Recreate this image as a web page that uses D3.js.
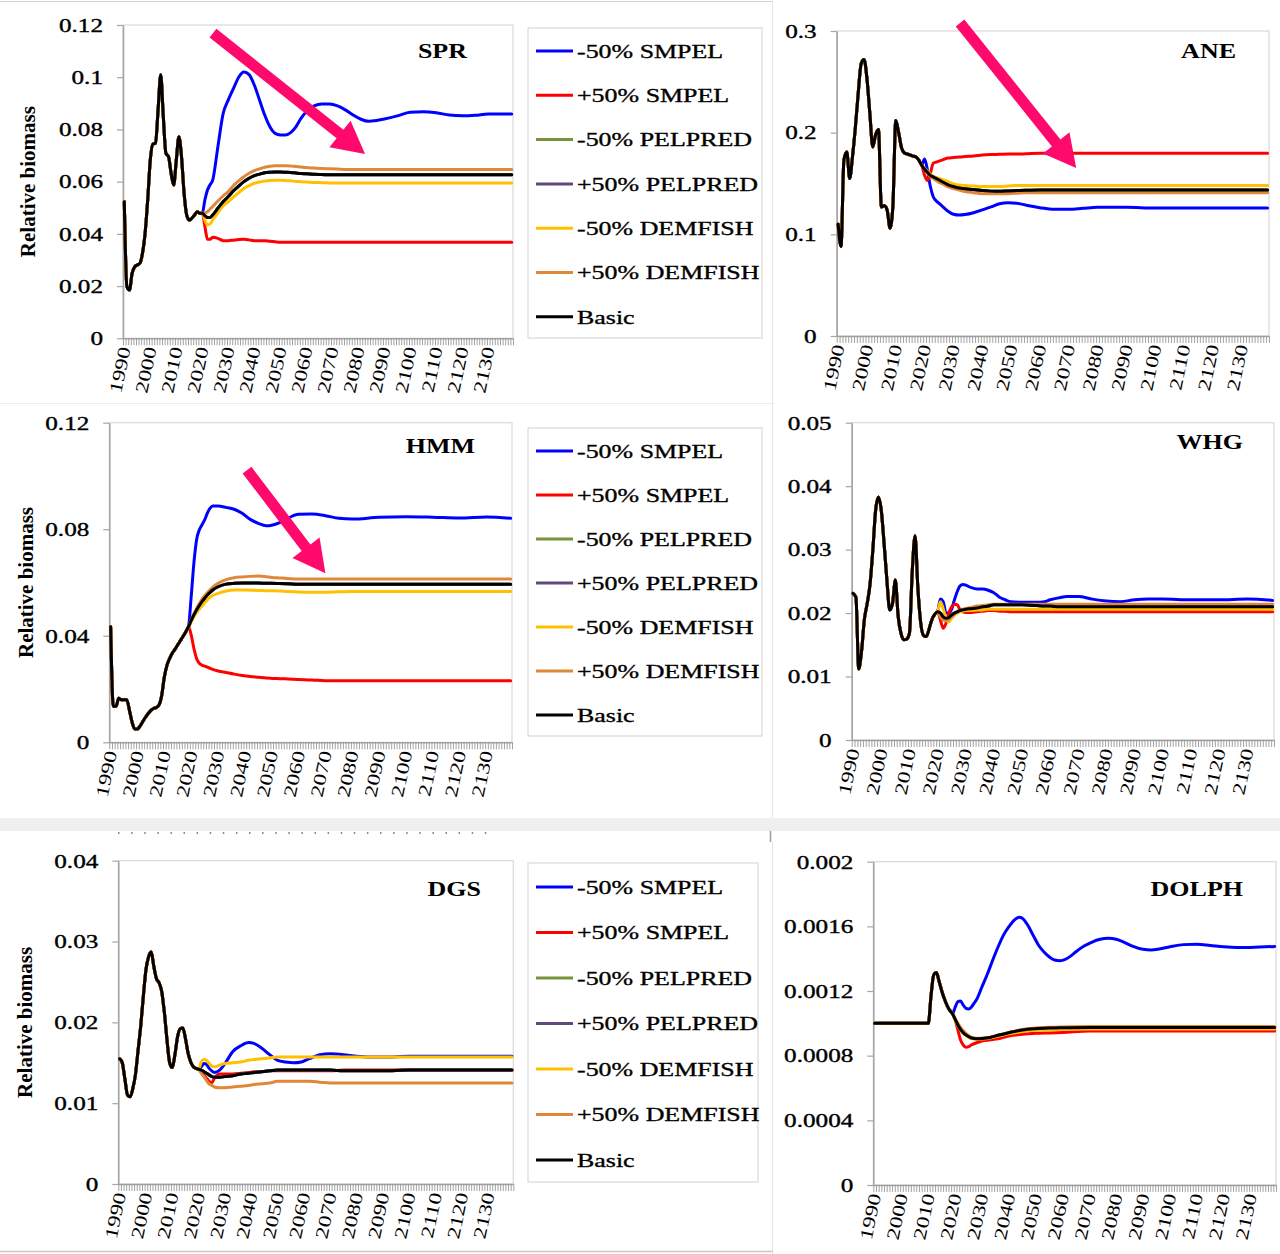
<!DOCTYPE html>
<html><head><meta charset="utf-8">
<script src="https://cdn.jsdelivr.net/npm/d3@7"></script>
<style>
html,body{margin:0;padding:0;background:#fff;}
svg{display:block;}
text{font-family:"Liberation Serif","Times New Roman",serif;fill:#000;}
text.heavy{stroke:#000;stroke-width:0.35px;}
</style></head><body>
<svg id="chart" width="1280" height="1254"></svg>
<script>
// ---------------- DATA ----------------
const SERIES_NAMES = ["-50% SMPEL","+50% SMPEL","-50% PELPRED","+50% PELPRED","-50% DEMFISH","+50% DEMFISH","Basic"];
const FIRST_YEAR = 1990, LAST_YEAR = 2139;
const X_TICK_LABELS = ["1990","2000","2010","2020","2030","2040","2050","2060","2070","2080","2090","2100","2110","2120","2130"];
const Y_TITLE = "Relative biomass";

// SPR
const SPR_Y_TICKS = [0,0.02,0.04,0.06,0.08,0.1,0.12];
const SPR_Y_LABELS = ["0","0.02","0.04","0.06","0.08","0.1","0.12"];
const SPR_HIST_YEARS = [1990,1991,1992,1993,1994,1995,1996,1997,1998,1999,2000,2001,2002,2003,2004,2005,2006,2007,2008,2009,2010,2011,2012,2013,2014,2015,2016,2017,2018,2019,2020];
const SPR_HIST = [0.0523,0.0198,0.0185,0.0249,0.0274,0.0281,0.0287,0.0326,0.0402,0.0530,0.0683,0.0744,0.0747,0.0875,0.1009,0.0849,0.0709,0.0696,0.0632,0.0587,0.0683,0.0772,0.0696,0.0555,0.0472,0.0453,0.0460,0.0472,0.0485,0.0479,0.0479];
const SPR_PROJ_YEARS = [2020,2021,2022,2023,2024,2026,2028,2030,2032,2034,2036,2038,2040,2042,2044,2046,2048,2050,2052,2054,2056,2058,2060,2063,2066,2069,2072,2075,2078,2081,2084,2087,2090,2095,2100,2105,2110,2115,2120,2125,2130,2139];
const SPR_SMPEL_M = [0.0479,0.0530,0.0568,0.0588,0.0606,0.0734,0.0860,0.0913,0.0957,0.1000,0.1020,0.1010,0.0970,0.0913,0.0855,0.0810,0.0785,0.0779,0.0779,0.0788,0.0810,0.0843,0.0868,0.0890,0.0897,0.0897,0.0890,0.0875,0.0855,0.0839,0.0831,0.0834,0.0840,0.0852,0.0866,0.0868,0.0864,0.0855,0.0852,0.0854,0.0859,0.0859];
const SPR_SMPEL_P = [0.0479,0.0428,0.0379,0.0379,0.0387,0.0383,0.0374,0.0374,0.0376,0.0378,0.0379,0.0377,0.0374,0.0374,0.0374,0.0372,0.0370,0.0368,0.0368,0.0368,0.0368,0.0368,0.0368,0.0368,0.0368,0.0368,0.0368,0.0368,0.0368,0.0368,0.0368,0.0368,0.0368,0.0368,0.0368,0.0368,0.0368,0.0368,0.0368,0.0368,0.0368,0.0368];
const SPR_DEMFISH_M = [0.0479,0.0453,0.0434,0.0438,0.0453,0.0481,0.0507,0.0523,0.0541,0.0558,0.0574,0.0585,0.0594,0.0599,0.0602,0.0604,0.0605,0.0605,0.0604,0.0603,0.0601,0.0600,0.0599,0.0597,0.0596,0.0595,0.0595,0.0595,0.0595,0.0595,0.0595,0.0595,0.0595,0.0595,0.0595,0.0595,0.0595,0.0595,0.0595,0.0595,0.0595,0.0595];
const SPR_DEMFISH_P = [0.0479,0.0480,0.0485,0.0495,0.0505,0.0526,0.0545,0.0562,0.0585,0.0603,0.0619,0.0632,0.0642,0.0649,0.0655,0.0659,0.0661,0.0661,0.0661,0.0660,0.0658,0.0656,0.0654,0.0652,0.0650,0.0649,0.0648,0.0647,0.0647,0.0647,0.0647,0.0647,0.0647,0.0647,0.0647,0.0647,0.0647,0.0647,0.0647,0.0647,0.0647,0.0647];
const SPR_BASIC = [0.0479,0.0469,0.0463,0.0463,0.0472,0.0498,0.0523,0.0543,0.0565,0.0583,0.0600,0.0613,0.0623,0.0629,0.0634,0.0636,0.0637,0.0637,0.0636,0.0635,0.0633,0.0631,0.0630,0.0628,0.0627,0.0626,0.0626,0.0626,0.0626,0.0626,0.0626,0.0626,0.0626,0.0626,0.0626,0.0626,0.0626,0.0626,0.0626,0.0626,0.0626,0.0626];
const SPR_ARROW = [[2024.1,0.1169],[2082.6,0.0706]];

// ANE
const ANE_Y_TICKS = [0,0.1,0.2,0.3];
const ANE_Y_LABELS = ["0","0.1","0.2","0.3"];
const ANE_HIST_YEARS = [1990,1991,1992,1993,1994,1995,1996,1997,1998,1999,2000,2001,2002,2003,2004,2005,2006,2007,2008,2009,2010,2011,2012,2013,2014,2015,2016,2017,2018,2019];
const ANE_HIST = [0.110,0.088,0.173,0.181,0.155,0.177,0.206,0.240,0.268,0.272,0.253,0.219,0.186,0.198,0.203,0.127,0.128,0.124,0.106,0.128,0.212,0.200,0.185,0.180,0.179,0.178,0.177,0.176,0.173,0.168];
const ANE_PROJ_YEARS = [2019,2020,2021,2022,2023,2024,2025,2026,2028,2030,2032,2034,2037,2040,2043,2046,2049,2052,2055,2060,2065,2070,2075,2080,2090,2100,2110,2120,2130,2139];
const ANE_SMPEL_M = [0.168,0.174,0.163,0.147,0.137,0.133,0.1305,0.128,0.123,0.1198,0.119,0.1195,0.1213,0.124,0.127,0.130,0.131,0.1305,0.1289,0.1262,0.1246,0.1246,0.1256,0.1266,0.1266,0.1259,0.1259,0.1259,0.1259,0.1259];
const ANE_SMPEL_P = [0.168,0.158,0.153,0.160,0.170,0.171,0.172,0.173,0.175,0.1755,0.176,0.1765,0.177,0.178,0.1785,0.1787,0.179,0.179,0.1792,0.1797,0.1797,0.1797,0.1797,0.1797,0.1797,0.1797,0.1797,0.1797,0.1797,0.1797];
const ANE_DEMFISH_M = [0.168,0.165,0.162,0.159,0.157,0.156,0.155,0.154,0.152,0.1495,0.1485,0.148,0.1475,0.147,0.147,0.147,0.1475,0.148,0.148,0.148,0.148,0.148,0.148,0.148,0.148,0.148,0.148,0.148,0.148,0.148];
const ANE_DEMFISH_P = [0.168,0.164,0.160,0.157,0.155,0.153,0.151,0.150,0.147,0.145,0.1435,0.142,0.141,0.140,0.1398,0.1398,0.140,0.1405,0.141,0.141,0.141,0.141,0.141,0.141,0.141,0.141,0.141,0.141,0.141,0.141];
const ANE_BASIC = [0.168,0.164,0.161,0.158,0.1565,0.155,0.1535,0.152,0.149,0.147,0.1455,0.1448,0.144,0.143,0.1425,0.1423,0.1427,0.143,0.1433,0.1436,0.1436,0.1436,0.1436,0.1436,0.1436,0.1436,0.1436,0.1436,0.1436,0.1436];
const ANE_ARROW = [[2032.3,0.3079],[2072.6,0.1653]];

// HMM
const HMM_Y_TICKS = [0,0.04,0.08,0.12];
const HMM_Y_LABELS = ["0","0.04","0.08","0.12"];
const HMM_HIST_YEARS = [1990,1991,1992,1993,1994,1995,1996,1997,1998,1999,2000,2001,2002,2003,2004,2005,2006,2007,2008,2009,2010,2011,2012,2013,2014,2015,2016,2017,2018,2019];
const HMM_HIST = [0.0434,0.0135,0.0135,0.0165,0.0160,0.0160,0.0160,0.0120,0.0075,0.0050,0.0050,0.0062,0.0078,0.0094,0.0108,0.0120,0.0127,0.0131,0.0140,0.0175,0.0245,0.0290,0.0315,0.0335,0.0350,0.0366,0.0382,0.0398,0.0415,0.0434];
const HMM_PROJ_YEARS = [2019,2020,2021,2022,2023,2024,2025,2026,2027,2028,2030,2033,2036,2039,2042,2045,2048,2050,2053,2056,2060,2065,2070,2075,2080,2090,2100,2110,2120,2130,2139];
const HMM_SMPEL_M = [0.0434,0.0547,0.0672,0.0760,0.0797,0.0816,0.0835,0.0860,0.0878,0.0887,0.0887,0.0882,0.0875,0.0860,0.0837,0.0822,0.0813,0.0815,0.0825,0.0841,0.0856,0.0857,0.0851,0.0841,0.0838,0.0845,0.0847,0.0845,0.0842,0.0846,0.0841];
const HMM_SMPEL_P = [0.0434,0.0403,0.0353,0.0315,0.0297,0.0290,0.0286,0.0282,0.0278,0.0274,0.0268,0.0262,0.0256,0.0251,0.0247,0.0244,0.0241,0.0240,0.0239,0.0238,0.0236,0.0234,0.0231,0.0231,0.0231,0.0231,0.0231,0.0231,0.0231,0.0231,0.0231];
const HMM_DEMFISH_M = [0.0434,0.0452,0.0472,0.0487,0.0499,0.0512,0.0524,0.0535,0.0544,0.0551,0.0559,0.0568,0.0572,0.0572,0.0571,0.0570,0.0569,0.0569,0.0568,0.0566,0.0564,0.0563,0.0563,0.0565,0.0566,0.0566,0.0566,0.0566,0.0566,0.0566,0.0566];
const HMM_DEMFISH_P = [0.0434,0.0460,0.0482,0.0502,0.0520,0.0537,0.0550,0.0562,0.0573,0.0582,0.0597,0.0611,0.0618,0.0621,0.0623,0.0624,0.0622,0.0619,0.0617,0.0615,0.0613,0.0613,0.0613,0.0613,0.0613,0.0613,0.0613,0.0613,0.0613,0.0613,0.0613];
const HMM_BASIC = [0.0434,0.0457,0.0478,0.0497,0.0513,0.0528,0.0541,0.0553,0.0563,0.0572,0.0584,0.0594,0.0597,0.0598,0.0598,0.0598,0.0597,0.0597,0.0596,0.0595,0.0593,0.0593,0.0593,0.0593,0.0593,0.0593,0.0593,0.0593,0.0593,0.0593,0.0593];
const HMM_ARROW = [[2040.8,0.1022],[2070.0,0.0635]];

// WHG
const WHG_Y_TICKS = [0,0.01,0.02,0.03,0.04,0.05];
const WHG_Y_LABELS = ["0","0.01","0.02","0.03","0.04","0.05"];
const WHG_HIST_YEARS = [1990,1991,1992,1993,1994,1995,1996,1997,1998,1999,2000,2001,2002,2003,2004,2005,2006,2007,2008,2009,2010,2011,2012,2013,2014,2015,2016,2017,2018,2019,2020];
const WHG_HIST = [0.0231,0.0225,0.0112,0.0140,0.0190,0.0215,0.0245,0.0299,0.0362,0.0383,0.0362,0.0310,0.0252,0.0205,0.0215,0.0252,0.0195,0.0168,0.0158,0.0159,0.0168,0.0265,0.0322,0.0240,0.0185,0.0165,0.0163,0.0175,0.0190,0.0198,0.0202];
const WHG_PROJ_YEARS = [2020,2021,2022,2023,2024,2025,2026,2027,2028,2029,2030,2032,2034,2036,2038,2040,2042,2044,2046,2050,2055,2058,2060,2063,2066,2070,2075,2080,2085,2090,2095,2100,2110,2120,2130,2139];
const WHG_SMPEL_M = [0.0202,0.0222,0.0218,0.0200,0.0200,0.0206,0.0221,0.0234,0.0243,0.0245,0.0244,0.0240,0.0238,0.0238,0.0236,0.0232,0.0225,0.0221,0.0218,0.0217,0.0217,0.0218,0.0221,0.0224,0.0226,0.0226,0.0222,0.0219,0.0218,0.0221,0.0222,0.0222,0.0221,0.0221,0.0222,0.0220];
const WHG_SMPEL_P = [0.0202,0.0189,0.0176,0.0184,0.0200,0.0210,0.0214,0.0213,0.0205,0.0202,0.0201,0.0201,0.0202,0.0203,0.0204,0.0204,0.0203,0.0203,0.0202,0.0202,0.0202,0.0202,0.0202,0.0202,0.0202,0.0202,0.0202,0.0202,0.0202,0.0202,0.0202,0.0202,0.0202,0.0202,0.0202,0.0202];
const WHG_DEMFISH_M = [0.0202,0.0218,0.0207,0.0192,0.0186,0.0192,0.0197,0.0200,0.0202,0.0203,0.0204,0.0204,0.0205,0.0205,0.0206,0.0206,0.0206,0.0206,0.0206,0.0206,0.0206,0.0206,0.0206,0.0206,0.0206,0.0206,0.0206,0.0206,0.0206,0.0206,0.0206,0.0206,0.0206,0.0206,0.0206,0.0206];
const WHG_DEMFISH_P = [0.0202,0.0194,0.0189,0.0188,0.0190,0.0194,0.0198,0.0202,0.0204,0.0206,0.0207,0.0209,0.0211,0.0212,0.0213,0.0214,0.0214,0.0214,0.0214,0.0214,0.0214,0.0214,0.0214,0.0214,0.0214,0.0214,0.0214,0.0214,0.0214,0.0214,0.0214,0.0214,0.0214,0.0214,0.0214,0.0214];
const WHG_BASIC = [0.0202,0.0200,0.0194,0.0192,0.0193,0.0197,0.0200,0.0202,0.0204,0.0205,0.0206,0.0207,0.0208,0.0210,0.0211,0.0213,0.0213,0.0213,0.0213,0.0213,0.0212,0.0211,0.0211,0.0210,0.0210,0.0210,0.0210,0.0210,0.0210,0.0210,0.0210,0.0210,0.0210,0.0210,0.0210,0.0210];

// DGS
const DGS_Y_TICKS = [0,0.01,0.02,0.03,0.04];
const DGS_Y_LABELS = ["0","0.01","0.02","0.03","0.04"];
const DGS_HIST_YEARS = [1990,1991,1992,1993,1994,1995,1996,1997,1998,1999,2000,2001,2002,2003,2004,2005,2006,2007,2008,2009,2010,2011,2012,2013,2014,2015,2016,2017,2018,2019,2020];
const DGS_HIST = [0.0155,0.0150,0.0130,0.0110,0.0108,0.0118,0.0135,0.0165,0.0195,0.0232,0.0265,0.0281,0.0287,0.0269,0.0254,0.0249,0.0238,0.0212,0.0178,0.0150,0.0144,0.0160,0.0182,0.0192,0.0193,0.0180,0.0162,0.0151,0.0145,0.0143,0.0142];
const DGS_PROJ_YEARS = [2020,2021,2022,2023,2024,2025,2026,2028,2030,2033,2036,2039,2041,2044,2047,2050,2053,2056,2059,2062,2066,2070,2075,2080,2085,2090,2100,2110,2120,2130,2139];
const DGS_SMPEL_M = [0.0142,0.0145,0.0149,0.0148,0.0143,0.0140,0.0138,0.0141,0.0149,0.0164,0.0171,0.0175,0.0174,0.0168,0.0160,0.0153,0.0151,0.0150,0.0151,0.0155,0.0160,0.0161,0.0160,0.0158,0.0157,0.0157,0.0158,0.0158,0.0158,0.0158,0.0158];
const DGS_SMPEL_P = [0.0142,0.0139,0.0135,0.0131,0.0127,0.0125,0.0131,0.0136,0.0136,0.0136,0.0137,0.0138,0.0139,0.0139,0.0140,0.0140,0.0140,0.0140,0.0140,0.0140,0.0140,0.0140,0.0141,0.0141,0.0141,0.0141,0.0141,0.0141,0.0141,0.0141,0.0141];
const DGS_DEMFISH_M = [0.0142,0.0151,0.0154,0.0153,0.0149,0.0146,0.0145,0.0147,0.0149,0.0150,0.0151,0.0153,0.0154,0.0155,0.0156,0.0157,0.0157,0.0157,0.0157,0.0157,0.0157,0.0157,0.0157,0.0157,0.0157,0.0157,0.0157,0.0157,0.0157,0.0157,0.0157];
const DGS_DEMFISH_P = [0.0142,0.0137,0.0133,0.0128,0.0124,0.0122,0.0120,0.0119,0.0119,0.0120,0.0121,0.0122,0.0123,0.0124,0.0125,0.0127,0.0127,0.0127,0.0127,0.0127,0.0126,0.0125,0.0125,0.0125,0.0125,0.0125,0.0125,0.0125,0.0125,0.0125,0.0125];
const DGS_BASIC = [0.0142,0.0141,0.0139,0.0137,0.0135,0.0133,0.0132,0.0132,0.0133,0.0134,0.0136,0.0137,0.0138,0.0139,0.0140,0.0141,0.0141,0.0141,0.0141,0.0141,0.0141,0.0141,0.0140,0.0140,0.0140,0.0140,0.0141,0.0141,0.0141,0.0141,0.0141];

// DOLPH
const DOLPH_Y_TICKS = [0,0.0004,0.0008,0.0012,0.0016,0.002];
const DOLPH_Y_LABELS = ["0","0.0004","0.0008","0.0012","0.0016","0.002"];
const DOLPH_HIST_YEARS = [1990,1991,1992,1993,1994,1995,1996,1997,1998,1999,2000,2001,2002,2003,2004,2005,2006,2007,2008,2009,2010,2011,2012,2013,2014,2015,2016,2017,2018,2019];
const DOLPH_HIST = [0.001,0.001,0.001,0.001,0.001,0.001,0.001,0.001,0.001,0.001,0.001,0.001,0.001,0.001,0.001,0.001,0.001,0.001,0.001,0.001,0.001,0.00117,0.00130,0.001315,0.00126,0.00120,0.00115,0.00111,0.00108,0.00106];
const DOLPH_BLUE_YEARS = [2019,2020,2021,2022,2023,2024,2025,2026,2027,2028,2030,2032,2034,2036,2038,2040,2042,2044,2045,2047,2049,2051,2053,2055,2057,2059,2061,2063,2065,2068,2071,2074,2077,2080,2083,2086,2090,2093,2096,2100,2105,2110,2115,2120,2125,2130,2139];
const DOLPH_SMPEL_M = [0.00106,0.0011,0.001134,0.001138,0.001113,0.001093,0.001089,0.0011,0.001124,0.001148,0.001227,0.001305,0.001392,0.001474,0.001546,0.001598,0.001639,0.001656,0.00165,0.001608,0.001546,0.001485,0.001443,0.001412,0.001392,0.001388,0.001396,0.001416,0.001443,0.001478,0.001503,0.00152,0.001526,0.00152,0.001501,0.001478,0.001458,0.001454,0.00146,0.001474,0.001487,0.001489,0.001482,0.001474,0.00147,0.00147,0.001476];
const DOLPH_PROJ_YEARS = [2019,2020,2021,2022,2023,2024,2025,2026,2028,2030,2033,2036,2040,2045,2050,2055,2060,2070,2139];
const DOLPH_SMPEL_P = [0.00106,0.00102,0.000959,0.000897,0.000866,0.000852,0.000856,0.000866,0.00088,0.000891,0.000898,0.000905,0.000922,0.000932,0.000938,0.000941,0.000944,0.000953,0.000953];
const DOLPH_DEMFISH_M = [0.00106,0.00102,0.000985,0.00096,0.00094,0.000925,0.000914,0.000906,0.000902,0.000903,0.000909,0.00092,0.000935,0.00095,0.000957,0.00096,0.000962,0.000965,0.000965];
const DOLPH_DEMFISH_P = [0.00106,0.00103,0.001,0.000975,0.000955,0.000938,0.000925,0.000915,0.000908,0.000908,0.000913,0.000925,0.000943,0.000962,0.000972,0.000976,0.000978,0.00098,0.00098];
const DOLPH_BASIC = [0.00106,0.001025,0.00099,0.000963,0.000942,0.000928,0.000918,0.000909,0.000905,0.000907,0.000913,0.000926,0.000942,0.000959,0.000967,0.000971,0.000973,0.000975,0.000975];

// ---------------- STYLE / LAYOUT ----------------
const SERIES_COLORS = ["#0000ff","#ff0000","#77933c","#604a7b","#ffc000","#e0883a","#000000"];
const ARROW_COLOR = "#ff0a6c";
const LAYOUT = {
  SPR:   {l:123,   r:513,   t:25,    b:338.3, yTitle:35, titleX:467,  titleY:58,  legend:{x:528,y:28, w:234,h:310,first:51, step:44.3}},
  ANE:   {l:836.7, r:1269,  t:31,    b:336,   titleX:1236, titleY:58},
  HMM:   {l:109.3, r:512,   t:422.7, b:742.3, yTitle:33, titleX:475,  titleY:453, legend:{x:528,y:428,w:234,h:308,first:451,step:44}},
  WHG:   {l:851.7, r:1274,  t:422.7, b:740,   titleX:1243, titleY:449},
  DGS:   {l:118.3, r:513.3, t:860.7, b:1184,  yTitle:32, titleX:481,  titleY:896, legend:{x:528,y:863,w:230,h:319,first:887,step:45.5}},
  DOLPH: {l:873.3, r:1276,  t:861.7, b:1185,  titleX:1243, titleY:896}
};

function build(histYears, hist, projYears, proj) {
  const start = projYears[0];
  const pts = histYears.map((yr, i) => [yr, hist[i]]).filter(p => p[0] < start);
  return pts.concat(projYears.map((yr, i) => [yr, proj[i]]));
}

const PANELS = [
  {name:"SPR", yTicks:SPR_Y_TICKS, yLabels:SPR_Y_LABELS, arrow:SPR_ARROW, series:[
    build(SPR_HIST_YEARS,SPR_HIST,SPR_PROJ_YEARS,SPR_SMPEL_M),
    build(SPR_HIST_YEARS,SPR_HIST,SPR_PROJ_YEARS,SPR_SMPEL_P),
    build(SPR_HIST_YEARS,SPR_HIST,SPR_PROJ_YEARS,SPR_BASIC),
    build(SPR_HIST_YEARS,SPR_HIST,SPR_PROJ_YEARS,SPR_BASIC),
    build(SPR_HIST_YEARS,SPR_HIST,SPR_PROJ_YEARS,SPR_DEMFISH_M),
    build(SPR_HIST_YEARS,SPR_HIST,SPR_PROJ_YEARS,SPR_DEMFISH_P),
    build(SPR_HIST_YEARS,SPR_HIST,SPR_PROJ_YEARS,SPR_BASIC)]},
  {name:"ANE", yTicks:ANE_Y_TICKS, yLabels:ANE_Y_LABELS, arrow:ANE_ARROW, series:[
    build(ANE_HIST_YEARS,ANE_HIST,ANE_PROJ_YEARS,ANE_SMPEL_M),
    build(ANE_HIST_YEARS,ANE_HIST,ANE_PROJ_YEARS,ANE_SMPEL_P),
    build(ANE_HIST_YEARS,ANE_HIST,ANE_PROJ_YEARS,ANE_BASIC),
    build(ANE_HIST_YEARS,ANE_HIST,ANE_PROJ_YEARS,ANE_BASIC),
    build(ANE_HIST_YEARS,ANE_HIST,ANE_PROJ_YEARS,ANE_DEMFISH_M),
    build(ANE_HIST_YEARS,ANE_HIST,ANE_PROJ_YEARS,ANE_DEMFISH_P),
    build(ANE_HIST_YEARS,ANE_HIST,ANE_PROJ_YEARS,ANE_BASIC)]},
  {name:"HMM", yTicks:HMM_Y_TICKS, yLabels:HMM_Y_LABELS, arrow:HMM_ARROW, series:[
    build(HMM_HIST_YEARS,HMM_HIST,HMM_PROJ_YEARS,HMM_SMPEL_M),
    build(HMM_HIST_YEARS,HMM_HIST,HMM_PROJ_YEARS,HMM_SMPEL_P),
    build(HMM_HIST_YEARS,HMM_HIST,HMM_PROJ_YEARS,HMM_BASIC),
    build(HMM_HIST_YEARS,HMM_HIST,HMM_PROJ_YEARS,HMM_BASIC),
    build(HMM_HIST_YEARS,HMM_HIST,HMM_PROJ_YEARS,HMM_DEMFISH_M),
    build(HMM_HIST_YEARS,HMM_HIST,HMM_PROJ_YEARS,HMM_DEMFISH_P),
    build(HMM_HIST_YEARS,HMM_HIST,HMM_PROJ_YEARS,HMM_BASIC)]},
  {name:"WHG", yTicks:WHG_Y_TICKS, yLabels:WHG_Y_LABELS, series:[
    build(WHG_HIST_YEARS,WHG_HIST,WHG_PROJ_YEARS,WHG_SMPEL_M),
    build(WHG_HIST_YEARS,WHG_HIST,WHG_PROJ_YEARS,WHG_SMPEL_P),
    build(WHG_HIST_YEARS,WHG_HIST,WHG_PROJ_YEARS,WHG_BASIC),
    build(WHG_HIST_YEARS,WHG_HIST,WHG_PROJ_YEARS,WHG_BASIC),
    build(WHG_HIST_YEARS,WHG_HIST,WHG_PROJ_YEARS,WHG_DEMFISH_M),
    build(WHG_HIST_YEARS,WHG_HIST,WHG_PROJ_YEARS,WHG_DEMFISH_P),
    build(WHG_HIST_YEARS,WHG_HIST,WHG_PROJ_YEARS,WHG_BASIC)]},
  {name:"DGS", yTicks:DGS_Y_TICKS, yLabels:DGS_Y_LABELS, series:[
    build(DGS_HIST_YEARS,DGS_HIST,DGS_PROJ_YEARS,DGS_SMPEL_M),
    build(DGS_HIST_YEARS,DGS_HIST,DGS_PROJ_YEARS,DGS_SMPEL_P),
    build(DGS_HIST_YEARS,DGS_HIST,DGS_PROJ_YEARS,DGS_BASIC),
    build(DGS_HIST_YEARS,DGS_HIST,DGS_PROJ_YEARS,DGS_BASIC),
    build(DGS_HIST_YEARS,DGS_HIST,DGS_PROJ_YEARS,DGS_DEMFISH_M),
    build(DGS_HIST_YEARS,DGS_HIST,DGS_PROJ_YEARS,DGS_DEMFISH_P),
    build(DGS_HIST_YEARS,DGS_HIST,DGS_PROJ_YEARS,DGS_BASIC)]},
  {name:"DOLPH", yTicks:DOLPH_Y_TICKS, yLabels:DOLPH_Y_LABELS, series:[
    build(DOLPH_HIST_YEARS,DOLPH_HIST,DOLPH_BLUE_YEARS,DOLPH_SMPEL_M),
    build(DOLPH_HIST_YEARS,DOLPH_HIST,DOLPH_PROJ_YEARS,DOLPH_SMPEL_P),
    build(DOLPH_HIST_YEARS,DOLPH_HIST,DOLPH_PROJ_YEARS,DOLPH_BASIC),
    build(DOLPH_HIST_YEARS,DOLPH_HIST,DOLPH_PROJ_YEARS,DOLPH_BASIC),
    build(DOLPH_HIST_YEARS,DOLPH_HIST,DOLPH_PROJ_YEARS,DOLPH_DEMFISH_M),
    build(DOLPH_HIST_YEARS,DOLPH_HIST,DOLPH_PROJ_YEARS,DOLPH_DEMFISH_P),
    build(DOLPH_HIST_YEARS,DOLPH_HIST,DOLPH_PROJ_YEARS,DOLPH_BASIC)]}
];

// ---------------- DRAW ----------------
const svg = d3.select("#chart");
const FONT = '"Liberation Serif","Times New Roman",serif';

// page decorations (composite figure edges)
svg.append("line").attr("x1",0).attr("x2",772).attr("y1",1.5).attr("y2",1.5).attr("stroke","#d4d4d4");
svg.append("line").attr("x1",772.5).attr("x2",772.5).attr("y1",0).attr("y2",818).attr("stroke","#e6e6e6");
svg.append("line").attr("x1",772.5).attr("x2",772.5).attr("y1",842).attr("y2",1254).attr("stroke","#e6e6e6");
svg.append("line").attr("x1",0).attr("x2",775).attr("y1",403.5).attr("y2",403.5).attr("stroke","#ececec");
svg.append("rect").attr("x",0).attr("y",818).attr("width",1280).attr("height",13).attr("fill","#efefef");
svg.append("line").attr("x1",770.5).attr("x2",770.5).attr("y1",831).attr("y2",842).attr("stroke","#9a9a9a").attr("stroke-width",1.5);
svg.append("line").attr("x1",0).attr("x2",773).attr("y1",1251.5).attr("y2",1251.5).attr("stroke","#c8c8c8").attr("stroke-width",1.5);
svg.append("line").attr("x1",118).attr("x2",492).attr("y1",833).attr("y2",833)
  .attr("stroke","#666").attr("stroke-width",1.5).attr("stroke-dasharray","1.5,11.6");

PANELS.forEach(p => {
  const L = LAYOUT[p.name];
  const x = d3.scaleLinear().domain([FIRST_YEAR - 0.5, LAST_YEAR + 0.5]).range([L.l, L.r]);
  const y = d3.scaleLinear().domain([0, d3.max(p.yTicks)]).range([L.b, L.t]);
  const g = svg.append("g");

  // plot area border
  g.append("rect").attr("x", L.l).attr("y", L.t).attr("width", L.r - L.l).attr("height", L.b - L.t)
    .attr("fill", "none").attr("stroke", "#d9d9d9").attr("stroke-width", 1.2);

  // y axis
  const yg = g.append("g").attr("transform", `translate(${L.l},0)`)
    .call(d3.axisLeft(y).tickValues(p.yTicks).tickSize(6).tickSizeOuter(0).tickFormat((d, i) => p.yLabels[i]));
  yg.attr("font-family", null).attr("font-size", null);
  yg.select(".domain").attr("stroke", "#a6a6a6").attr("stroke-width", 1.6);
  yg.selectAll(".tick line").attr("stroke", "#a6a6a6").attr("stroke-width", 1.2);
  yg.selectAll(".tick text").attr("x", null).attr("dy", "0.35em").attr("fill", "#000")
    .attr("class", "heavy")
    .attr("transform", "translate(-20,0) scale(1.4,1)")
    .style("font-family", FONT).style("font-size", "18px");

  // x axis: category boundary comb
  const boundaries = d3.range(FIRST_YEAR - 0.5, LAST_YEAR + 1, 1);
  const xg = g.append("g").attr("transform", `translate(0,${L.b})`)
    .call(d3.axisBottom(x).tickValues(boundaries).tickSize(7).tickSizeOuter(0).tickFormat(""));
  xg.select(".domain").attr("stroke", "#a6a6a6").attr("stroke-width", 1.6);
  xg.selectAll(".tick line").attr("stroke", "#8c8c8c").attr("stroke-width", 0.8);

  // x axis labels (rotated)
  const labelYears = X_TICK_LABELS.map(Number);
  const xl = g.append("g").attr("transform", `translate(0,${L.b})`)
    .call(d3.axisBottom(x).tickValues(labelYears).tickSize(0).tickFormat((d, i) => X_TICK_LABELS[i]));
  xl.attr("font-family", null).attr("font-size", null);
  xl.select(".domain").remove();
  xl.selectAll(".tick text").attr("y", null).attr("dy", null).attr("text-anchor", "end").attr("fill", "#000")
    .attr("transform", "translate(6,10) rotate(-78) scale(1.3,1)")
    .style("font-family", FONT).style("font-size", "18px");

  // series lines
  const line = d3.line().x(d => x(d[0])).y(d => y(d[1])).curve(d3.curveMonotoneX);
  p.series.forEach((pts, i) => {
    g.append("path").datum(pts).attr("d", line).attr("fill", "none")
      .attr("stroke", SERIES_COLORS[i]).attr("stroke-width", 3)
      .attr("stroke-linejoin", "round").attr("stroke-linecap", "round");
  });

  // panel title
  g.append("text").attr("text-anchor", "end")
    .attr("transform", `translate(${L.titleX},${L.titleY}) scale(1.3,1)`)
    .style("font-family", FONT).style("font-size", "20px").style("font-weight", "bold")
    .text(p.name);

  // y title
  if (L.yTitle) {
    g.append("text").attr("text-anchor", "middle")
      .attr("transform", `translate(${L.yTitle},${(L.t + L.b) / 2}) rotate(-90)`)
      .style("font-family", FONT).style("font-size", "21px").style("font-weight", "bold")
      .text(Y_TITLE);
  }

  // legend
  if (L.legend) {
    const lg = L.legend;
    const leg = g.append("g");
    leg.append("rect").attr("x", lg.x).attr("y", lg.y).attr("width", lg.w).attr("height", lg.h)
      .attr("fill", "#fff").attr("stroke", "#d9d9d9").attr("stroke-width", 1.2);
    SERIES_NAMES.forEach((nm, i) => {
      const ey = lg.first + i * lg.step;
      leg.append("line").attr("x1", lg.x + 8).attr("x2", lg.x + 45).attr("y1", ey).attr("y2", ey)
        .attr("stroke", SERIES_COLORS[i]).attr("stroke-width", 3);
      leg.append("text").attr("dy", "0.35em").attr("class", "heavy")
        .attr("transform", `translate(${lg.x + 49},${ey}) scale(1.33,1)`)
        .style("font-family", FONT).style("font-size", "19.5px")
        .text(nm);
    });
  }

  // annotation arrow
  if (p.arrow) {
    const [a, b] = p.arrow;
    const x0 = x(a[0]), y0 = y(a[1]), x1 = x(b[0]), y1 = y(b[1]);
    const len = Math.hypot(x1 - x0, y1 - y0);
    const ux = (x1 - x0) / len, uy = (y1 - y0) / len, nx = -uy, ny = ux;
    const headLen = 32, headHalf = 17, shaftHalf = 5.5;
    const bx = x1 - ux * headLen, by = y1 - uy * headLen;
    const pts = [
      [x0 + nx * shaftHalf, y0 + ny * shaftHalf],
      [bx + nx * shaftHalf, by + ny * shaftHalf],
      [bx + nx * headHalf, by + ny * headHalf],
      [x1, y1],
      [bx - nx * headHalf, by - ny * headHalf],
      [bx - nx * shaftHalf, by - ny * shaftHalf],
      [x0 - nx * shaftHalf, y0 - ny * shaftHalf]
    ];
    g.append("path").attr("d", d3.line()(pts) + "Z").attr("fill", ARROW_COLOR);
  }
});
</script></body></html>
